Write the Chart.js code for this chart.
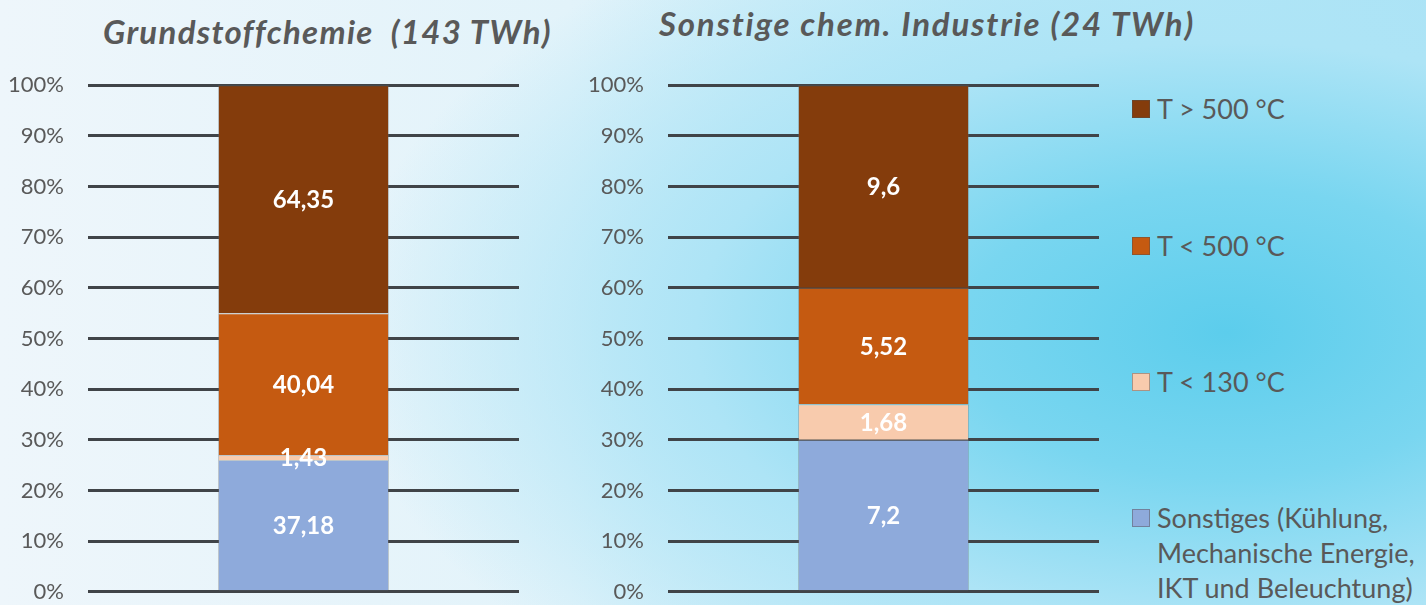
<!DOCTYPE html>
<html>
<head>
<meta charset="utf-8">
<script src="https://cdn.jsdelivr.net/npm/chart.js@4"></script>
<style>
  html, body { margin: 0; padding: 0; }
  body {
    width: 1426px; height: 605px; overflow: hidden; position: relative;
    font-family: Lato, sans-serif;
    background:
      radial-gradient(ellipse 62% 80% at 86% 55%, #5ccdec 0%, #79d6f0 30%, #ade4f6 60%, rgba(220,241,250,0) 100%),
      linear-gradient(90deg, #eef6fb 0%, #e2f3fa 40%, #c4ebf8 70%, #a9e2f5 100%);
  }
  .title { position: absolute; font: italic bold 33px Lato, sans-serif; letter-spacing: 1.3px; color: #595959; white-space: pre; }
  canvas { position: absolute; display: block; }
  .legend-item { position: absolute; left: 1132px; font-size: 27px; color: #595959; line-height: 35px; }
  .legend-item .sw { position: absolute; left: 0; top: 9px; width: 16px; height: 16px; border: 1px solid rgba(80,80,80,0.45); }
  .legend-item .tx { margin-left: 25px; white-space: pre; }
</style>
</head>
<body>
<div class="title" id="t1" style="left:103px; top:11px;"></div>
<div class="title" id="t2" style="left:659px; top:3px; letter-spacing:1.8px;"></div>
<canvas id="c1" width="522" height="581" style="left:0px; top:48px;"></canvas>
<canvas id="c2" width="522" height="581" style="left:580px; top:48px;"></canvas>
<div id="legend"></div>
<script>
// series (bottom to top of the stack)
var seriesNames = ['Sonstiges', 'T < 130 °C', 'T < 500 °C', 'T > 500 °C'];
var legendLines = [
  ['Sonstiges (Kühlung,', 'Mechanische Energie,', 'IKT und Beleuchtung)'],
  ['T < 130 °C'],
  ['T < 500 °C'],
  ['T > 500 °C']
];
var seriesColors = ['#8eaadb', '#f8cbad', '#c55a11', '#843c0c'];

// TWh values per series
var grundstoffValues = [37.18, 1.43, 40.04, 64.35];
var sonstigeValues = [7.2, 1.68, 5.52, 9.6];

var chartTitles = ['Grundstoffchemie  (143 TWh)', 'Sonstige chem. Industrie (24 TWh)'];
var yTicks = [0, 10, 20, 30, 40, 50, 60, 70, 80, 90, 100];

document.getElementById('t1').textContent = chartTitles[0];
document.getElementById('t2').textContent = chartTitles[1];

// legend, top to bottom
var legendY = [108, 245, 381, 517];
var legend = document.getElementById('legend');
for (var i = 0; i < 4; i++) {
  var idx = 3 - i;
  var d = document.createElement('div');
  d.className = 'legend-item';
  d.style.top = (legendY[i] - 17.5) + 'px';
  d.innerHTML = '<div class="sw" style="background:' + seriesColors[idx] + '"></div><div class="tx"></div>';
  d.querySelector('.tx').textContent = legendLines[idx].join('\n');
  legend.appendChild(d);
}

var valueLabels = {
  id: 'valueLabels',
  afterDatasetsDraw: function (chart) {
    var ctx = chart.ctx;
    ctx.save();
    ctx.font = 'bold 24px Lato';
    ctx.fillStyle = '#ffffff';
    ctx.textAlign = 'center';
    ctx.textBaseline = 'middle';
    chart.data.datasets.forEach(function (ds, i) {
      chart.getDatasetMeta(i).data.forEach(function (bar) {
        var y = (bar.y + bar.base) / 2;
        ctx.fillText(String(ds.raw).replace('.', ','), bar.x, y + 1);
      });
    });
    ctx.restore();
  }
};

function makeChart(id, values) {
  var total = values.reduce(function (a, b) { return a + b; }, 0);
  var datasets = seriesNames.map(function (name, i) {
    return {
      label: name,
      raw: values[i],
      data: [values[i] / total * 100],
      backgroundColor: seriesColors[i],
      borderColor: 'rgba(110,110,110,0.35)',
      borderWidth: 1,
      barPercentage: 0.397,
      categoryPercentage: 1
    };
  });
  return new Chart(document.getElementById(id), {
    type: 'bar',
    data: { labels: [''], datasets: datasets },
    options: {
      responsive: false,
      animation: false,
      layout: { autoPadding: false, padding: { top: 13, right: 3, bottom: 14, left: 0 } },
      plugins: { legend: { display: false }, tooltip: { enabled: false } },
      scales: {
        x: { stacked: true, display: false },
        y: {
          stacked: true,
          min: 0, max: 100,
          afterBuildTicks: function (scale) {
            scale.ticks = yTicks.map(function (v) { return { value: v }; });
          },
          afterFit: function (scale) { scale.width = 88; },
          grid: { color: '#404448', lineWidth: 3, drawTicks: false },
          border: { display: false },
          ticks: {
            padding: 24,
            color: '#595959',
            font: { family: 'Lato', size: 22 },
            callback: function (v) { return v + '%'; }
          }
        }
      }
    },
    plugins: [valueLabels]
  });
}

makeChart('c1', grundstoffValues);
makeChart('c2', sonstigeValues);
</script>
</body>
</html>
